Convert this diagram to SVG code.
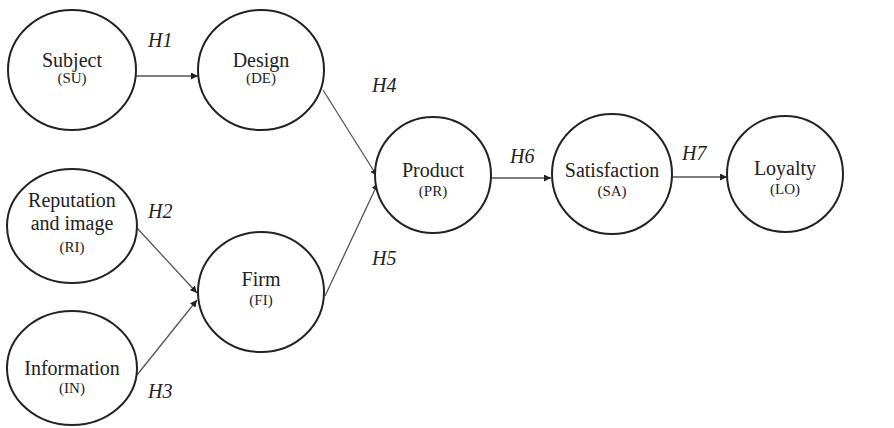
<svg xmlns="http://www.w3.org/2000/svg" width="894" height="428" viewBox="0 0 894 428">
<style>
.n{fill:#fff;stroke:#222;stroke-width:2}
text{font-family:'Liberation Serif','DejaVu Serif','Times New Roman',serif;fill:#222}
.t{font-size:20px;text-anchor:middle}
.s{font-size:15px;text-anchor:middle}
.h{font-size:20px;font-style:italic}
.c{stroke:#555;stroke-width:1.3;fill:none;marker-end:url(#a)}
</style>
<defs>
<marker id="a" viewBox="0 0 10 10" refX="10" refY="5" markerWidth="7" markerHeight="7" markerUnits="userSpaceOnUse" orient="auto">
<path d="M0,0 L10,5 L0,10 z" fill="#222"/>
</marker>
</defs>
<rect width="894" height="428" fill="#fff"/>
<g id="connectors">
<line class="c" x1="136" y1="76" x2="198" y2="76"/>
<line class="c" x1="137" y1="228" x2="197" y2="293"/>
<line class="c" x1="137" y1="375" x2="197" y2="300"/>
<line class="c" x1="323" y1="90" x2="377" y2="176"/>
<line class="c" x1="325" y1="296" x2="378" y2="183"/>
<line class="c" x1="491" y1="178" x2="551" y2="178"/>
<line class="c" x1="672" y1="177" x2="727" y2="177"/>
</g>
<g id="labels" font-family="Liberation Serif, serif">
<text class="h" x="148" y="47">H1</text>
<text class="h" x="148" y="218">H2</text>
<text class="h" x="148" y="398">H3</text>
<text class="h" x="372" y="92">H4</text>
<text class="h" x="372" y="265">H5</text>
<text class="h" x="510" y="163">H6</text>
<text class="h" x="682" y="160">H7</text>
</g>
<g id="subject"><ellipse class="n" cx="72" cy="70" rx="64" ry="60"/><text class="t" x="72" y="67">Subject</text><text class="s" x="72" y="83">(SU)</text></g>
<g id="design"><ellipse class="n" cx="261" cy="70" rx="63" ry="60"/><text class="t" x="261" y="67">Design</text><text class="s" x="261" y="83">(DE)</text></g>
<g id="reputation"><ellipse class="n" cx="72" cy="226" rx="65" ry="57"/><text class="t" x="72" y="207">Reputation</text><text class="t" x="72" y="230">and image</text><text class="s" x="72" y="252">(RI)</text></g>
<g id="information"><ellipse class="n" cx="72" cy="368" rx="65" ry="57"/><text class="t" x="72" y="375">Information</text><text class="s" x="72" y="393">(IN)</text></g>
<g id="firm"><ellipse class="n" cx="261" cy="292" rx="63" ry="60"/><text class="t" x="261" y="286">Firm</text><text class="s" x="261" y="305">(FI)</text></g>
<g id="product"><ellipse class="n" cx="433" cy="175" rx="58" ry="58"/><text class="t" x="433" y="177">Product</text><text class="s" x="433" y="196">(PR)</text></g>
<g id="satisfaction"><ellipse class="n" cx="612" cy="174" rx="60" ry="60"/><text class="t" x="612" y="177">Satisfaction</text><text class="s" x="612" y="196">(SA)</text></g>
<g id="loyalty"><ellipse class="n" cx="785" cy="174" rx="58" ry="58"/><text class="t" x="785" y="175">Loyalty</text><text class="s" x="785" y="194">(LO)</text></g>
</svg>
